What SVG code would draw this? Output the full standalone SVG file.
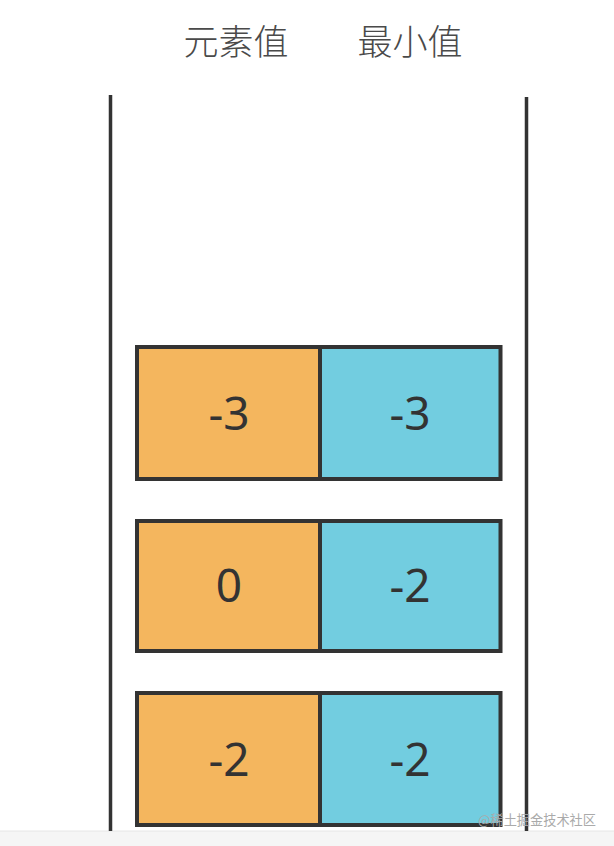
<svg xmlns="http://www.w3.org/2000/svg" width="614" height="846" viewBox="0 0 614 846">
<style>
.hdr{font-family:"Noto Sans CJK SC","Noto Sans",sans-serif;font-size:35px;font-weight:300;fill:#4a4a4a;text-anchor:middle}
.num{font-family:"Noto Sans","Open Sans",sans-serif;font-size:46px;fill:#333;text-anchor:middle}
.a{fill:#F4B65E;stroke:#333;stroke-width:4}
.b{fill:#72CDE0;stroke:#333;stroke-width:4}
.wall{stroke:#333;stroke-width:3.5}
.wm{font-family:"Noto Sans CJK SC",sans-serif;font-size:13.2px;fill:#aaa}
</style>
<rect width="614" height="846" fill="#fff"/>
<rect x="0" y="831" width="614" height="15" fill="#f5f5f5"/>
<line x1="0" y1="831" x2="614" y2="831" stroke="#e6e6e6" stroke-width="1"/>
<text class="hdr" x="236" y="55">元素值</text>
<text class="hdr" x="410" y="55">最小值</text>
<g id="walls">
<line class="wall" x1="110.5" y1="95" x2="110.5" y2="831"/>
<line class="wall" x1="526.5" y1="97" x2="526.5" y2="831"/>
</g>
<g id="row1">
<rect class="a" x="137" y="347" width="183" height="132"/>
<rect class="b" x="320" y="347" width="180.5" height="132"/>
<text class="num" x="229" y="430">-3</text>
<text class="num" x="410" y="430">-3</text>
</g>
<g id="row2">
<rect class="a" x="137" y="521" width="183" height="130"/>
<rect class="b" x="320" y="521" width="180.5" height="130"/>
<text class="num" x="229" y="602">0</text>
<text class="num" x="410" y="602">-2</text>
</g>
<g id="row3">
<rect class="a" x="137" y="693" width="183" height="132"/>
<rect class="b" x="320" y="693" width="180.5" height="132"/>
<text class="num" x="229" y="776">-2</text>
<text class="num" x="410" y="776">-2</text>
</g>
<g id="connectors"></g>
<text class="wm" x="478" y="825">@稀土掘金技术社区</text>
</svg>
